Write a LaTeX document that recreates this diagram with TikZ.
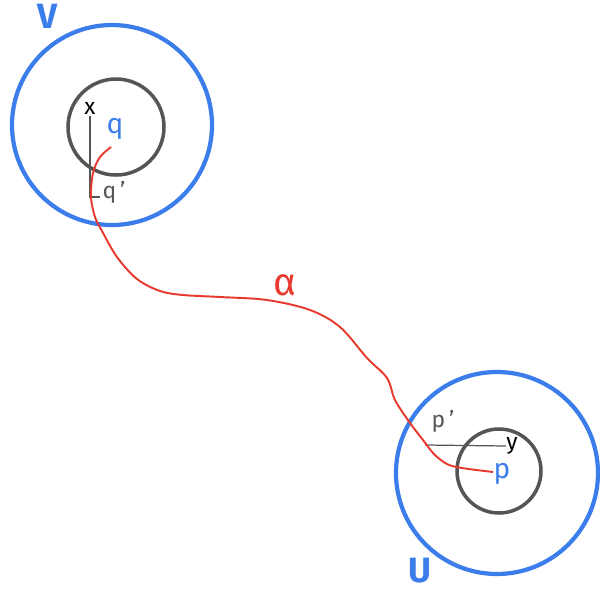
\documentclass[tikz,border=0pt]{standalone}
\usepackage{fontspec}
\setmainfont{Fira Sans}
\definecolor{nbhblue}{RGB}{59,125,235}
\definecolor{diskgray}{RGB}{85,85,85}
\definecolor{pathred}{RGB}{232,57,46}
\usetikzlibrary{positioning}
\tikzset{
  bigdisk/.style={draw=nbhblue, line width=2.4pt},
  smalldisk/.style={draw=diskgray, line width=2pt},
  axisline/.style={draw=diskgray, line width=0.7pt},
  setlabel/.style={text=nbhblue, font=\fontsize{20}{20}\selectfont\bfseries, inner sep=0pt},
  ptlabel/.style={text=nbhblue, font=\fontsize{16}{16}\selectfont, inner sep=0pt},
  axlabel/.style={text=#1, font=\fontsize{13}{13}\selectfont, inner sep=0pt},
  alphapath/.style={draw=pathred, line width=1.1pt},
}
\begin{document}
\begin{tikzpicture}[x=0.02cm, y=-0.02cm]
\useasboundingbox (0,0) rectangle (600,593);
% Neighbourhood V around q
\draw[bigdisk] (112,125) circle (100);
\draw[smalldisk] (116,127) circle (48);
\node[setlabel] (V) at (48,16) {V};
\node[ptlabel] (q) at (115,129) {q};
\node[axlabel=black] (x) at (90,108) {x};
\node[axlabel=diskgray] (qp) at (114,192) {q\,'};
\coordinate (qfoot) at (89,197);
\draw[axisline] (x.south) ++(0,2) |- ([xshift=6]qfoot);

% Neighbourhood U around p
\draw[bigdisk] (497,473) circle (101);
\draw[smalldisk] (499,471) circle (42);
\node[setlabel] (U) at (420,571) {U};
\node[ptlabel] (p) at (502,474) {p};
\node[axlabel=black] (y) at (512,446) {y};
\node[axlabel=diskgray] (pp) at (443,421) {p\,'};
\coordinate (pfoot) at (425,445);
\draw[axisline] (pfoot) -- (y.west);

% the path alpha from q to p
\coordinate (qend) at (111,147);
\coordinate (pend) at (493,472);
\draw[alphapath] plot[smooth, tension=0.55] coordinates {(qend) (100,157) (93,173) (91,197) (95,217) (102,231)
  (117,257) (137,279) (160,291) (183,295) (220,297) (267,300) (310,310) (340,327) (367,358)
  (387,378) (395,400) (410,423) (423,440) (434,454) (447,464) (462,468) (pend)};
\node[text=pathred, font=\fontsize{22}{22}\selectfont, inner sep=0pt] (alpha) at (285,285) {α};
\end{tikzpicture}
\end{document}
